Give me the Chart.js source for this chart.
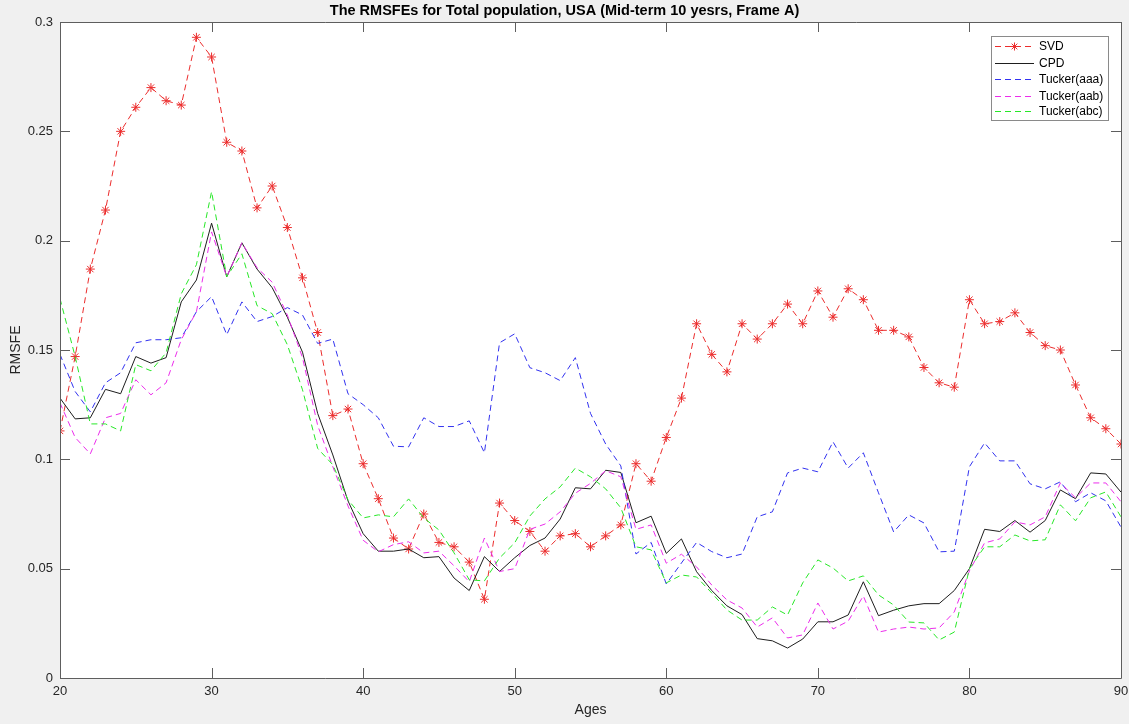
<!DOCTYPE html>
<html>
<head>
<meta charset="utf-8">
<title>RMSFE chart</title>
<script src="https://cdn.jsdelivr.net/npm/chart.js@4.4.1/dist/chart.umd.min.js"></script>
<style>
  html, body { margin: 0; padding: 0; background: #ffffff; }
  #wrap { width: 1129px; height: 724px; }
</style>
</head>
<body>
<div id="wrap"><canvas id="chart" width="1129" height="724"></canvas></div>
<script>
// 연령 (x축)
const ages = [20, 21, 22, 23, 24, 25, 26, 27, 28, 29,
  30, 31, 32, 33, 34, 35, 36, 37, 38, 39,
  40, 41, 42, 43, 44, 45, 46, 47, 48, 49,
  50, 51, 52, 53, 54, 55, 56, 57, 58, 59,
  60, 61, 62, 63, 64, 65, 66, 67, 68, 69,
  70, 71, 72, 73, 74, 75, 76, 77, 78, 79,
  80, 81, 82, 83, 84, 85, 86, 87, 88, 89, 90];

const svd = [0.113, 0.147, 0.187, 0.214, 0.250, 0.261, 0.270, 0.264, 0.262, 0.293,
  0.284, 0.245, 0.241, 0.215, 0.225, 0.206, 0.183, 0.158, 0.120, 0.123,
  0.098, 0.082, 0.064, 0.059, 0.075, 0.062, 0.060, 0.053, 0.036, 0.080,
  0.072, 0.067, 0.058, 0.065, 0.066, 0.060, 0.065, 0.070, 0.098, 0.090,
  0.110, 0.128, 0.162, 0.148, 0.140, 0.162, 0.155, 0.162, 0.171, 0.162,
  0.177, 0.165, 0.178, 0.173, 0.159, 0.159, 0.156, 0.142, 0.135, 0.133,
  0.173, 0.162, 0.163, 0.167, 0.158, 0.152, 0.150, 0.134, 0.119, 0.114, 0.107];

const cpd = [0.128, 0.1185, 0.119, 0.132, 0.130, 0.147, 0.144, 0.1465, 0.172, 0.182,
  0.208, 0.1835, 0.199, 0.187, 0.1785, 0.165, 0.149, 0.121, 0.102, 0.081,
  0.066, 0.058, 0.058, 0.059, 0.055, 0.0555, 0.0457, 0.040, 0.0555, 0.0487,
  0.055, 0.0606, 0.064, 0.0727, 0.087, 0.0865, 0.095, 0.094, 0.071, 0.074,
  0.057, 0.0636, 0.0486, 0.040, 0.033, 0.029, 0.018, 0.017, 0.0137, 0.0178,
  0.0257, 0.0257, 0.0288, 0.044, 0.0285, 0.031, 0.033, 0.034, 0.034, 0.040,
  0.050, 0.068, 0.067, 0.072, 0.0667, 0.072, 0.086, 0.082, 0.0938, 0.0933, 0.085];

const tuckerAaa = [0.148, 0.131, 0.1217, 0.135, 0.1396, 0.1533, 0.1547, 0.1547, 0.1556, 0.1675,
  0.1744, 0.157, 0.172, 0.163, 0.1653, 0.1694, 0.166, 0.153, 0.155, 0.130,
  0.125, 0.119, 0.106, 0.1057, 0.119, 0.115, 0.115, 0.1176, 0.103, 0.1533,
  0.1574, 0.1419, 0.1396, 0.136, 0.1465, 0.121, 0.107, 0.097, 0.0567, 0.062,
  0.043, 0.0526, 0.062, 0.0578, 0.055, 0.0567, 0.0737, 0.076, 0.0938, 0.096,
  0.0943, 0.108, 0.096, 0.103, 0.0847, 0.0668, 0.0746, 0.0709, 0.0577, 0.058,
  0.0966, 0.1075, 0.0993, 0.0993, 0.0888, 0.0865, 0.0897, 0.0806, 0.0847, 0.081, 0.069];

const tuckerAab = [0.1258, 0.110, 0.1025, 0.119, 0.121, 0.1364, 0.1295, 0.135, 0.1547, 0.1675,
  0.204, 0.1835, 0.199, 0.1876, 0.181, 0.166, 0.1465, 0.1155, 0.0966, 0.0787,
  0.063, 0.0577, 0.061, 0.0623, 0.0572, 0.058, 0.0513, 0.044, 0.064, 0.0487,
  0.050, 0.068, 0.0704, 0.076, 0.0845, 0.089, 0.0948, 0.092, 0.068, 0.070,
  0.0525, 0.0566, 0.0508, 0.0425, 0.0357, 0.032, 0.0233, 0.0275, 0.0183, 0.0197,
  0.0343, 0.0224, 0.026, 0.0375, 0.021, 0.0224, 0.0233, 0.0224, 0.0229, 0.0302,
  0.049, 0.0618, 0.0636, 0.0714, 0.070, 0.0737, 0.0892, 0.0824, 0.0892, 0.0892, 0.0806];

const tuckerAbc = [0.1735, 0.147, 0.1162, 0.1162, 0.113, 0.1433, 0.1405, 0.1487, 0.1757, 0.189,
  0.2224, 0.1835, 0.194, 0.1703, 0.1666, 0.1524, 0.1318, 0.105, 0.0975, 0.0815,
  0.0732, 0.0746, 0.0737, 0.0819, 0.0732, 0.0677, 0.0572, 0.0449, 0.0444, 0.0549,
  0.0618, 0.0741, 0.0819, 0.0874, 0.096, 0.092, 0.0865, 0.0778, 0.060, 0.0586,
  0.0435, 0.0471, 0.0462, 0.0389, 0.0311, 0.0265, 0.0265, 0.0325, 0.0288, 0.0435,
  0.054, 0.0503, 0.0444, 0.0467, 0.038, 0.0334, 0.0256, 0.0252, 0.0174, 0.021,
  0.050, 0.060, 0.060, 0.0654, 0.0627, 0.0632, 0.0792, 0.0719, 0.0824, 0.0851, 0.0737];

const seriesNames = ['SVD', 'CPD', 'Tucker(aaa)', 'Tucker(aab)', 'Tucker(abc)'];
const xTickValues = [20, 30, 40, 50, 60, 70, 80, 90];
const yTickValues = [0, 0.05, 0.1, 0.15, 0.2, 0.25, 0.3];
const yTickLabels = ['0', '0.05', '0.1', '0.15', '0.2', '0.25', '0.3'];

const FONT = '"Liberation Sans", Arial, Helvetica, sans-serif';
const AXIS_COLOR = '#262626';
const colors = ['rgb(236,45,45)', 'rgb(30,30,30)', 'rgb(50,50,240)', 'rgb(236,45,236)', 'rgb(40,232,40)'];
const dash = [6, 4];

function toPoints(values) {
  return values.map((v, i) => ({ x: ages[i], y: v }));
}

// 배경 + 흰색 플롯 영역
const backgroundPlugin = {
  id: 'matlabBackground',
  beforeDraw(chart) {
    const ctx = chart.ctx;
    const a = chart.chartArea;
    ctx.save();
    ctx.fillStyle = '#f0f0f0';
    ctx.fillRect(0, 0, chart.width, chart.height);
    ctx.fillStyle = '#ffffff';
    ctx.fillRect(a.left, a.top, a.right - a.left, a.bottom - a.top);
    ctx.restore();
  }
};

// 축 박스, 안쪽 눈금, 범례
const axesBoxPlugin = {
  id: 'matlabAxes',
  afterDraw(chart) {
    const ctx = chart.ctx;
    const a = chart.chartArea;
    const xs = chart.scales.x;
    const ys = chart.scales.y;
    const tick = 10;
    ctx.save();
    ctx.strokeStyle = '#5e5e5e';
    ctx.lineWidth = 1;
    ctx.beginPath();
    ctx.rect(Math.round(a.left) + 0.5, Math.round(a.top) + 0.5,
      Math.round(a.right - a.left), Math.round(a.bottom - a.top));
    xTickValues.forEach(v => {
      const px = Math.round(xs.getPixelForValue(v)) + 0.5;
      ctx.moveTo(px, a.bottom); ctx.lineTo(px, a.bottom - tick);
      ctx.moveTo(px, a.top); ctx.lineTo(px, a.top + tick);
    });
    yTickValues.forEach(v => {
      const py = Math.round(ys.getPixelForValue(v)) + 0.5;
      ctx.moveTo(a.left, py); ctx.lineTo(a.left + tick, py);
      ctx.moveTo(a.right, py); ctx.lineTo(a.right - tick, py);
    });
    ctx.stroke();

    // 범례
    const box = { x: 991.5, y: 36.5, w: 117, h: 84 };
    ctx.fillStyle = '#ffffff';
    ctx.fillRect(box.x, box.y, box.w, box.h);
    ctx.strokeStyle = '#8a8a8a';
    ctx.strokeRect(box.x, box.y, box.w, box.h);
    const rowY = [46, 62.5, 79, 95.5, 111];
    ctx.font = '12px ' + FONT;
    ctx.textBaseline = 'middle';
    ctx.textAlign = 'left';
    chart.data.datasets.forEach((ds, i) => {
      const y = Math.round(rowY[i]) + 0.5;
      ctx.strokeStyle = ds.borderColor;
      ctx.lineWidth = 1;
      ctx.setLineDash(ds.borderDash || []);
      ctx.beginPath();
      ctx.moveTo(995, y);
      ctx.lineTo(1034, y);
      ctx.stroke();
      ctx.setLineDash([]);
      if (ds.pointStyle === 'star') {
        ctx.strokeStyle = ds.borderColor;
        Chart.helpers.drawPoint(ctx, { pointStyle: 'star', radius: 4, rotation: 0, borderWidth: 1 }, 1014.5, y);
      }
      ctx.fillStyle = '#000000';
      ctx.fillText(ds.label, 1039, y + 0.5);
    });
    ctx.restore();
  }
};

const seriesValues = [svd, cpd, tuckerAaa, tuckerAab, tuckerAbc];

const datasets = seriesNames.map((name, i) => ({
  label: name,
  data: toPoints(seriesValues[i]),
  borderColor: colors[i],
  backgroundColor: colors[i],
  borderWidth: 1,
  borderDash: i === 1 ? [] : dash,
  pointStyle: i === 0 ? 'star' : 'circle',
  pointRadius: i === 0 ? 4.5 : 0,
  pointBorderWidth: 1,
  pointBorderColor: colors[i],
  fill: false,
  tension: 0,
  order: 4 - i
}));

new Chart(document.getElementById('chart'), {
  type: 'line',
  data: { datasets: datasets },
  options: {
    responsive: false,
    animation: false,
    layout: { padding: { left: 8, right: 8, top: 0, bottom: 0 } },
    plugins: {
      legend: { display: false },
      tooltip: { enabled: false },
      title: {
        display: true,
        text: 'The RMSFEs for Total population, USA (Mid-term 10 yesrs, Frame A)',
        color: '#000000',
        font: { family: FONT, size: 14.5, weight: 'bold' },
        padding: { top: 2, bottom: 2.6 }
      }
    },
    scales: {
      x: {
        type: 'linear',
        min: 20,
        max: 90,
        grid: { display: false, drawTicks: false },
        border: { display: false },
        afterFit(scale) {
          scale.height = 46;
          scale.paddingLeft = 0;
          scale.paddingRight = 0;
        },
        afterBuildTicks(scale) { scale.ticks = xTickValues.map(v => ({ value: v })); },
        ticks: {
          color: AXIS_COLOR,
          font: { family: FONT, size: 13 },
          padding: 6,
          maxRotation: 0,
          callback: (v) => String(v)
        },
        title: {
          display: true,
          text: 'Ages',
          color: AXIS_COLOR,
          font: { family: FONT, size: 14 },
          padding: { top: 0, bottom: 5 }
        }
      },
      y: {
        type: 'linear',
        min: 0,
        max: 0.3,
        grid: { display: false, drawTicks: false },
        border: { display: false },
        afterFit(scale) { scale.width = 52; },
        afterBuildTicks(scale) { scale.ticks = yTickValues.map(v => ({ value: v })); },
        ticks: {
          color: AXIS_COLOR,
          font: { family: FONT, size: 13 },
          padding: 7,
          callback: (v) => {
            const i = yTickValues.indexOf(v);
            return i >= 0 ? yTickLabels[i] : '';
          }
        },
        title: {
          display: true,
          text: 'RMSFE',
          color: AXIS_COLOR,
          font: { family: FONT, size: 14 },
          padding: { top: 0, bottom: 0 }
        }
      }
    }
  },
  plugins: [backgroundPlugin, axesBoxPlugin]
});
</script>
</body>
</html>
